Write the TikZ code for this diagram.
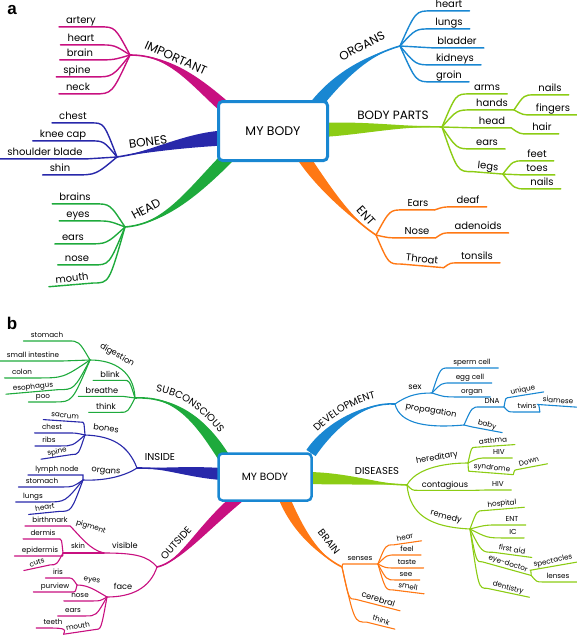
\documentclass[tikz,border=0pt]{standalone}
\usepackage{fontspec}
\setmainfont{Poppins}
\newfontfamily\labfont{Liberation Sans}
\usetikzlibrary{calc,decorations.text}
\definecolor{cMag}{RGB}{200,16,128}
\definecolor{cNavy}{RGB}{40,40,170}
\definecolor{cGreen}{RGB}{30,170,60}
\definecolor{cBlue}{RGB}{25,135,210}
\definecolor{cLime}{RGB}{140,204,20}
\definecolor{cOrange}{RGB}{255,120,20}
\newcommand\fMainB{\fontsize{10}{11}\selectfont}
% tapered main branch: colour, hub, c1, c2, end, half-width offset at end
\newcommand\Branch[6]{%
 \fill[#1] (#2) .. controls (#3) and ($(#4)+(#6)$) .. ($(#5)+(#6)$) -- ($(#5)-(#6)$) .. controls ($(#4)-(#6)$) and (#3) .. (#2) -- cycle;
 \draw[#1,line width=1.6pt] (#2) .. controls (#3) and (#4) .. (#5);}
\newcommand\LeafRto[4]{%
 \path ([xshift=-3pt]#3.south west) coordinate (tmps);
 \path ($(#2)!.5!(tmps)$) coordinate (tmpm);
 \draw[#1] (#2) .. controls (tmpm |- tmps) .. (tmps) -- (#4);}
\newcommand\LeafR[3]{\LeafRto{#1}{#2}{#3}{[xshift=6pt]#3.south east}}
\newcommand\LeafLto[4]{%
 \path ([xshift=3pt]#3.south east) coordinate (tmps);
 \path ($(#2)!.5!(tmps)$) coordinate (tmpm);
 \draw[#1] (#2) .. controls (tmpm |- tmps) .. (tmps) -- (#4);}
\newcommand\LeafL[3]{\LeafLto{#1}{#2}{#3}{[xshift=-6pt]#3.south west}}
\tikzset{
 lA/.style={line width=1.4pt,line cap=round},
 lB/.style={line width=1.1pt,line cap=round},
 tA/.style={font=\fontsize{10}{11}\selectfont,inner sep=1pt,text height=7.2pt,text depth=2.2pt},
 mA/.style={font=\fontsize{12}{13}\selectfont,inner sep=0pt},
 tB/.style={font=\fontsize{7.2}{8}\selectfont,inner sep=1.3pt,text height=5.3pt,text depth=1.6pt},
 mdB/.style={font=\fontsize{8.2}{9}\selectfont,inner sep=1.2pt,text height=6pt,text depth=1.8pt},
 mB/.style={font=\fMainB,inner sep=0pt},
 hubbox/.style={draw=cBlue,fill=white,rounded corners=4pt,align=center},
 panel/.style={font=\labfont\bfseries\fontsize{17}{18}\selectfont,inner sep=0pt},
}
\begin{document}
\begin{tikzpicture}[x=1pt,y=-1pt]
\useasboundingbox (0,0) rectangle (577,637);
%================ PANEL A ================
\node[panel] (la) at (12,10) {a};
% IMPORTANT
\coordinate (hI) at (130,55);
\Branch{cMag}{hI}{170,55}{196,82}{227,109}{4,-4.7}
\node[mA,rotate=-24] (tImp) at (176,58) {IMPORTANT};
\node[tA] (a1) at (81,21) {artery};
\node[tA] (a2) at (81,39) {heart};
\node[tA] (a3) at (80,54) {brain};
\node[tA] (a4) at (77,71) {spine};
\node[tA] (a5) at (78,88) {neck};
\foreach \n in {a1,a2,a3,a4,a5}{\LeafL{cMag,lA}{hI}{\n}}
% BONES
\coordinate (hB) at (117,157);
\Branch{cNavy}{hB}{150,152}{185,140}{224,138}{0,-7.5}
\node[mA,rotate=8] (tBon) at (148,142) {BONES};
\node[tA] (b1) at (73,117) {chest};
\node[tA] (b2) at (63,135) {knee cap};
\node[tA] (b3) at (45,153) {shoulder blade};
\node[tA] (b4) at (60,169) {shin};
\foreach \n in {b1,b2,b3,b4}{\LeafL{cNavy,lA}{hB}{\n}}
% HEAD
\coordinate (hH) at (125,227);
\Branch{cGreen}{hH}{165,224}{195,190}{229,156}{4.5,4.5}
\node[mA,rotate=28] (tHead) at (146,209) {HEAD};
\node[tA] (c1) at (75,198) {brains};
\node[tA] (c2) at (78,215) {eyes};
\node[tA] (c3) at (73,238) {ears};
\node[tA] (c4) at (77,259) {nose};
\node[tA,rotate=6] (c5) at (72,279) {mouth};
\foreach \n in {c1,c2,c3,c4,c5}{\LeafL{cGreen,lA}{hH}{\n}}
% ORGANS
\coordinate (hO) at (400,46);
\Branch{cBlue}{hO}{372,54}{342,72}{315,106}{4.7,3.6}
\node[mA,rotate=27] (tOrg) at (362,46) {ORGANS};
\node[tA] (d1) at (449,5) {heart};
\node[tA] (d2) at (449,23) {lungs};
\node[tA] (d3) at (457,42) {bladder};
\node[tA] (d4) at (455,59) {kidneys};
\node[tA] (d5) at (449,76) {groin};
\foreach \n in {d1,d2,d3,d4,d5}{\LeafR{cBlue,lA}{hO}{\n}}
% BODY PARTS
\coordinate (hP) at (442,127);
\Branch{cLime}{hP}{400,126}{360,128}{322,130}{0,7}
\node[mA] (tBP) at (393,115) {BODY PARTS};
\node[tA] (e1) at (487,88) {arms};
\node[tA] (e2) at (492,104) {hands};
\node[tA] (e3) at (492,122) {head};
\node[tA] (e4) at (487,143) {ears};
\node[tA,rotate=-6] (e5) at (488,167) {legs};
\LeafR{cLime,lA}{hP}{e1}
\LeafR{cLime,lA}{hP}{e4}
\coordinate (sHa) at ([xshift=5pt]e2.south east);
\LeafRto{cLime,lA}{hP}{e2}{sHa}
\node[tA] (e6) at (550,89) {nails};
\node[tA] (e7) at (553,109) {fingers};
\LeafR{cLime,lA}{sHa}{e6}
\LeafR{cLime,lA}{sHa}{e7}
\coordinate (sHd) at ([xshift=5pt]e3.south east);
\LeafRto{cLime,lA}{hP}{e3}{sHd}
\node[tA] (e8) at (542,128) {hair};
\LeafR{cLime,lA}{sHd}{e8}
\coordinate (sLg) at ([xshift=4pt]e5.south east);
\LeafRto{cLime,lA}{hP}{e5}{sLg}
\node[tA] (e9) at (537,155) {feet};
\node[tA] (e10) at (537,169) {toes};
\node[tA] (e11) at (542,183) {nails};
\foreach \n in {e9,e10,e11}{\LeafR{cLime,lA}{sLg}{\n}}
% ENT
\coordinate (hE) at (376,235);
\Branch{cOrange}{hE}{350,218}{322,185}{303,157}{5,-3.4}
\node[mA,rotate=-48] (tENT) at (366,216) {ENT};
\node[tA] (f1) at (418,204) {Ears};
\node[tA] (f2) at (417,232) {Nose};
\node[tA,rotate=-6] (f3) at (422,260) {Throat};
\node[tA] (f4) at (468,201) {deaf};
\node[tA] (f5) at (478,227) {adenoids};
\node[tA] (f6) at (477,257) {tonsils};
\coordinate (sEa) at ([xshift=5pt]f1.south east);
\coordinate (sNo) at ([xshift=5pt]f2.south east);
\coordinate (sTh) at ([xshift=5pt]f3.south east);
\LeafRto{cOrange,lA}{hE}{f1}{sEa}
\LeafRto{cOrange,lA}{hE}{f2}{sNo}
\LeafRto{cOrange,lA}{hE}{f3}{sTh}
\LeafR{cOrange,lA}{sEa}{f4}
\LeafR{cOrange,lA}{sNo}{f5}
\LeafR{cOrange,lA}{sTh}{f6}
% central box A
\node[hubbox,line width=3pt,minimum width=109pt,minimum height=59pt,font=\fontsize{12.5}{13}\selectfont] (boxA) at (273,131) {MY BODY};
%================ PANEL B ================
\node[panel] (lb) at (12,323) {b};
% SUBCONSCIOUS
\coordinate (hS) at (135,398);
\Branch{cGreen}{hS}{175,396}{200,420}{223,456}{5,-3}
\path[decorate,decoration={text along path,text align=center,text={|\fMainB|SUBCONSCIOUS}}] (140,391) .. controls (178,389) and (206,412) .. (229,446);
\coordinate (sD) at (90,360);
\draw[cGreen,lB] (hS) .. controls (134,372) and (115,360) .. (sD);
\node[mdB,rotate=-30] (g0) at (117,355) {digestion};
\node[tB] (g1) at (47,336) {stomach};
\node[tB] (g2) at (33,356) {small intestine};
\node[tB] (g3) at (22,373) {colon};
\node[tB,rotate=6] (g4) at (33,387) {esophagus};
\node[tB] (g5) at (43,397) {poo};
\foreach \n in {g1,g2,g3,g4,g5}{\LeafL{cGreen,lB}{sD}{\n}}
\node[mdB] (g6) at (110,375) {blink};
\node[mdB] (g7) at (102,391) {breathe};
\node[mdB] (g8) at (106,407) {think};
\foreach \n in {g6,g7,g8}{\LeafL{cGreen,lB}{hS}{\n}}
% INSIDE
\coordinate (hIn) at (137,468);
\Branch{cNavy}{hIn}{165,468}{190,472}{222,474}{0,6}
\node[mB] (tIns) at (160,457) {INSIDE};
\coordinate (sBo) at (85,435);
\draw[cNavy,lB] (hIn) .. controls (128,445) and (112,436) .. (sBo);
\node[mdB,rotate=-8] (i0) at (106,429) {bones};
\node[tB,rotate=-5] (i1) at (65,416) {sacrum};
\node[tB] (i2) at (52,428) {chest};
\node[tB] (i3) at (49,441) {ribs};
\node[tB,rotate=12] (i4) at (57,452) {spine};
\foreach \n in {i1,i2,i3,i4}{\LeafL{cNavy,lB}{sBo}{\n}}
\coordinate (sOr) at (83,480);
\draw[cNavy,lB] (hIn) .. controls (125,476) and (105,481) .. (sOr);
\node[mdB,rotate=-5] (i5) at (106,471) {organs};
\node[tB] (i6) at (57,470) {lymph node};
\node[tB] (i7) at (42,482) {stomach};
\node[tB] (i8) at (33,497) {lungs};
\node[tB,rotate=8] (i9) at (45,508) {heart};
\foreach \n in {i6,i7,i8,i9}{\LeafL{cNavy,lB}{sOr}{\n}}
% OUTSIDE
\coordinate (hOu) at (157,567);
\Branch{cMag}{hOu}{180,562}{200,530}{238,498}{3.5,4.2}
\node[mB,rotate=48] (tOut) at (176,543) {OUTSIDE};
\coordinate (sV) at (104,553);
\draw[cMag,lB] (hOu) .. controls (148,556) and (135,553) .. (sV);
\node[mdB] (o0) at (125,546) {visible};
\coordinate (sSk) at (63,553);
\draw[cMag,lB] (sV) -- (sSk);
\node[tB] (o1) at (78,547) {skin};
\node[tB] (o2) at (50,521) {birthmark};
\coordinate (sPg) at ([xshift=1pt]o2.south east);
\draw[cMag,lB] (sV) .. controls (90,550) and (80,536) .. (sPg) -- ([xshift=-6pt]o2.south west);
\node[tB,rotate=-18] (o3) at (91,527) {pigment};
\node[tB] (o4) at (43,534) {dermis};
\node[tB] (o5) at (40,551) {epidermis};
\node[tB,rotate=18] (o6) at (37,563) {cuts};
\foreach \n in {o4,o5,o6}{\LeafL{cMag,lB}{sSk}{\n}}
\coordinate (sF) at (107,597);
\draw[cMag,lB] (hOu) .. controls (150,588) and (132,597) .. (sF);
\node[mdB] (o7) at (123,587) {face};
\coordinate (sEy) at (77,585);
\draw[cMag,lB] (sF) .. controls (95,590) and (88,585) .. (sEy);
\node[tB,rotate=-10] (o8) at (92,580) {eyes};
\node[tB] (o9) at (58,573) {iris};
\node[tB] (o10) at (55,587) {purview};
\LeafL{cMag,lB}{sEy}{o9}
\LeafL{cMag,lB}{sEy}{o10}
\node[tB] (o11) at (80,596) {nose};
\node[tB] (o12) at (73,611) {ears};
\LeafL{cMag,lB}{sF}{o11}
\LeafL{cMag,lB}{sF}{o12}
\node[tB,rotate=10] (o13) at (78,627) {mouth};
\coordinate (sM) at ([xshift=-2pt]o13.south west);
\LeafLto{cMag,lB}{sF}{o13}{sM}
\node[tB] (o14) at (53,623) {teeth};
\draw[cMag,lB] (sM) .. controls ([xshift=2pt]o14.south east) .. ([xshift=-6pt]o14.south west);
% DEVELOPMENT
\coordinate (hD) at (395,404);
\Branch{cBlue}{hD}{365,402}{330,425}{311,453}{4.6,3.1}
\path[decorate,decoration={text along path,text align=center,text={|\fMainB|DEVELOPMENT}}] (305,447) .. controls (324,419) and (362,395) .. (395,396);
\coordinate (sSx) at (432,393);
\draw[cBlue,lB] (hD) .. controls (408,395) and (418,393) .. (sSx);
\node[mdB] (v0) at (415,387) {sex};
\node[tB] (v1) at (472,363) {sperm cell};
\node[tB] (v2) at (470,378) {egg cell};
\node[tB] (v3) at (472,392) {organ};
\foreach \n in {v1,v2,v3}{\LeafR{cBlue,lB}{sSx}{\n}}
\coordinate (sPr) at (464,425);
\draw[cBlue,lB] (hD) .. controls (400,425) and (430,428) .. (sPr);
\node[mdB,rotate=-10] (v4) at (431,411) {propagation};
\node[tB] (v5) at (492,402) {DNA};
\coordinate (sDN) at ([xshift=3pt]v5.south east);
\LeafRto{cBlue,lB}{sPr}{v5}{sDN}
\node[tB,rotate=12] (v6) at (523,390) {unique};
\node[tB] (v7) at (527,407) {twins};
\coordinate (sTw) at ([xshift=2pt]v7.south east);
\node[tB,rotate=-5] (v8) at (558,401) {siamese};
\node[tB,rotate=-15] (v9) at (487,425) {baby};
\LeafR{cBlue,lB}{sDN}{v6}
\LeafRto{cBlue,lB}{sDN}{v7}{sTw}
\LeafR{cBlue,lB}{sTw}{v8}
\LeafR{cBlue,lB}{sPr}{v9}
% DISEASES
\coordinate (hDi) at (407,485);
\Branch{cLime}{hDi}{380,484}{350,479}{310,478}{0,6}
\node[mB] (tDis) at (377,471) {DISEASES};
\coordinate (sHe) at (468,463);
\draw[cLime,lB] (hDi) .. controls (415,470) and (440,463) .. (sHe);
\node[mdB,rotate=10] (s0) at (437,458) {hereditary};
\node[tB,rotate=5] (s1) at (493,441) {asthma};
\node[tB] (s2) at (499,453) {HIV};
\node[tB,rotate=-5] (s3) at (492,468) {syndrome};
\coordinate (sSy) at ([xshift=2pt]s3.south east);
\node[tB,rotate=15] (s4) at (529,462) {Down};
\LeafR{cLime,lB}{sHe}{s1}
\LeafR{cLime,lB}{sHe}{s2}
\LeafRto{cLime,lB}{sHe}{s3}{sSy}
\LeafR{cLime,lB}{sSy}{s4}
\node[mdB] (s5) at (445,485) {contagious};
\coordinate (sCo) at ([xshift=6pt]s5.south east);
\LeafRto{cLime,lB}{hDi}{s5}{sCo}
\node[tB] (s6) at (498,485) {HIV};
\LeafR{cLime,lB}{sCo}{s6}
\coordinate (sRe) at (470,529);
\draw[cLime,lB] (hDi) .. controls (410,515) and (430,527) .. (sRe);
\node[mdB,rotate=-15] (s7) at (446,517) {remedy};
\node[tB,rotate=6] (s8) at (502,504) {hospital};
\node[tB] (s9) at (512,520) {ENT};
\node[tB] (s10) at (513,533) {IC};
\node[tB,rotate=-10] (s11) at (512,550) {first aid};
\node[tB,rotate=-18] (s12) at (508,564) {eye-doctor};
\node[tB,rotate=-15] (s13) at (508,588) {dentistry};
\foreach \n in {s8,s9,s10,s11,s13}{\LeafR{cLime,lB}{sRe}{\n}}
\coordinate (sEd) at ([xshift=4pt]s12.south east);
\LeafRto{cLime,lB}{sRe}{s12}{sEd}
\node[tB,rotate=12] (s14) at (553,561) {spectacles};
\node[tB] (s15) at (558,577) {lenses};
\LeafR{cLime,lB}{sEd}{s14}
\LeafR{cLime,lB}{sEd}{s15}
% BRAIN
\coordinate (hBr) at (342,567);
\Branch{cOrange}{hBr}{318,555}{298,530}{285,500}{5,-2.2}
\node[mB,rotate=-52] (tBr) at (329,542) {BRAIN};
\node[tB] (r0) at (360,559) {senses};
\coordinate (sSe) at ([xshift=4pt]r0.south east);
\LeafRto{cOrange,lB}{hBr}{r0}{sSe}
\node[tB,rotate=12] (r1) at (405,538) {hear};
\node[tB] (r2) at (407,550) {feel};
\node[tB] (r3) at (407,563) {taste};
\node[tB] (r4) at (406,575) {see};
\node[tB,rotate=-10] (r5) at (408,587) {smell};
\foreach \n in {r1,r2,r3,r4,r5}{\LeafR{cOrange,lB}{sSe}{\n}}
\node[mdB,rotate=-18] (r6) at (378,600) {cerebral};
\node[tB,rotate=-20] (r7) at (381,621) {think};
\LeafR{cOrange,lB}{hBr}{r6}
\LeafR{cOrange,lB}{hBr}{r7}
% central box B
\node[hubbox,line width=2.5pt,minimum width=93pt,minimum height=47pt,font=\fontsize{10.5}{11}\selectfont] (boxB) at (265,477) {MY BODY};
\end{tikzpicture}
\end{document}
